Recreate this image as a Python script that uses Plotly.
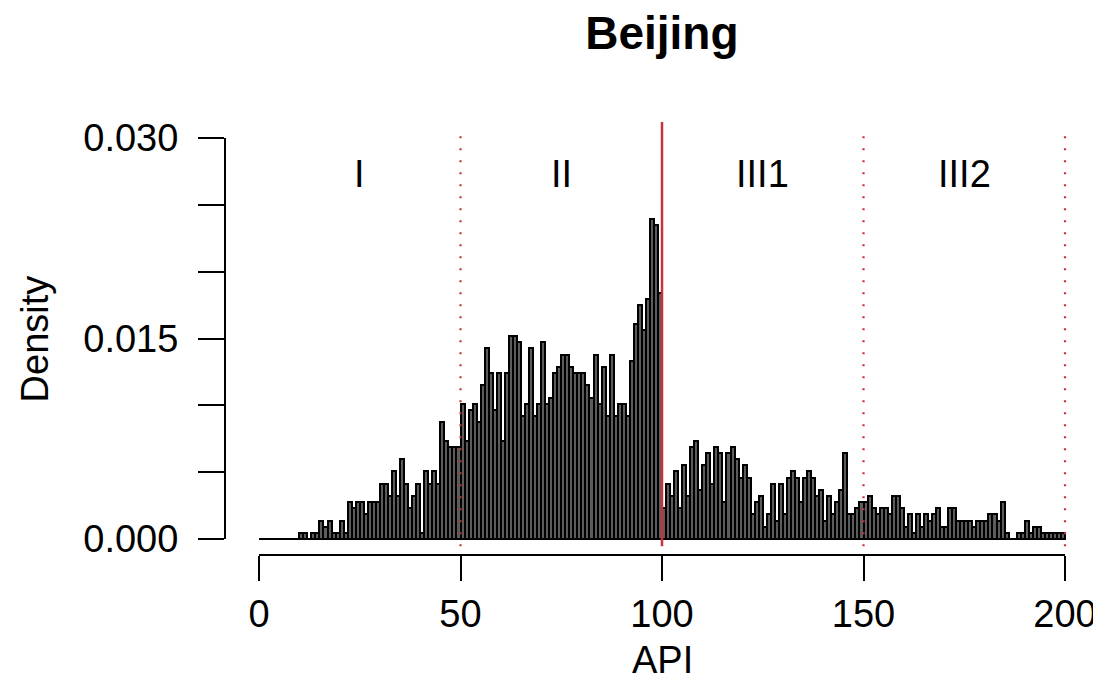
import numpy as np
import plotly.graph_objects as go

# daily API counts per 1-unit bin, API 0..199
api_counts = [
    0, 0, 0, 0, 0, 0, 0, 0, 0, 0,
    1, 1, 0, 1, 1, 3, 2, 3, 1, 1,
    3, 1, 6, 5, 6, 6, 4, 6, 6, 6,
    9, 9, 7, 11, 7, 13, 9, 5, 7, 9,
    1, 11, 9, 11, 9, 19, 16, 15, 15, 15,
    22, 16, 21, 22, 19, 25, 31, 27, 21, 27,
    16, 27, 33, 33, 32, 20, 22, 31, 20, 22,
    32, 22, 23, 27, 28, 30, 30, 28, 27, 27,
    27, 25, 23, 30, 22, 28, 20, 30, 20, 22,
    22, 20, 29, 35, 38, 34, 39, 52, 51, 40,
    5, 9, 7, 11, 5, 12, 7, 15, 16, 8,
    12, 14, 9, 15, 14, 6, 14, 15, 13, 10,
    12, 10, 4, 6, 7, 2, 4, 9, 3, 9,
    4, 10, 11, 10, 6, 10, 11, 10, 7, 8,
    3, 7, 4, 6, 8, 14, 4, 4, 5, 6,
    6, 7, 5, 4, 5, 5, 4, 7, 7, 5,
    2, 4, 1, 4, 2, 4, 3, 4, 5, 2,
    2, 5, 5, 3, 3, 3, 3, 2, 3, 3,
    3, 4, 4, 3, 6, 1, 0, 0, 1, 1,
    3, 1, 2, 2, 1, 1, 1, 1, 1, 1,
]
n_days = 2174  # total number of days in the sample

x_ticks = [0, 50, 100, 150, 200]
y_ticks = [0.0, 0.005, 0.010, 0.015, 0.020, 0.025, 0.030]
y_labels = ["0.000", "", "", "0.015", "", "", "0.030"]

cut_dotted = [50, 150, 200]
cut_solid = [100]
zone_names = ["I", "II", "III1", "III2"]
zone_x = [25, 75, 125, 175]
zone_y = 0.0273

FONT = "Liberation Sans, Arial, sans-serif"
RED = "#C8323A"

bin_mid = np.arange(len(api_counts)) + 0.5
density = np.array(api_counts) / n_days

fig = go.Figure()
fig.add_trace(go.Bar(x=bin_mid, y=density, width=1,
                     marker=dict(color="#5c5c5c", line=dict(color="black", width=2)),
                     showlegend=False, hoverinfo="skip"))

for v in cut_dotted:
    fig.add_shape(type="line", xref="x", yref="paper", x0=v, x1=v, y0=0.02, y1=0.99,
                  line=dict(color=RED, width=2.2, dash="2px,10px"), layer="above")
for v in cut_solid:
    fig.add_shape(type="line", xref="x", yref="paper", x0=v, x1=v, y0=0.02, y1=1,
                  line=dict(color=RED, width=2.5), layer="above")

# R style axis lines that stop at the end ticks
fig.add_shape(type="line", xref="x", yref="paper", x0=x_ticks[0], x1=x_ticks[-1], y0=0, y1=0,
              line=dict(color="black", width=2))
fig.add_shape(type="line", xref="paper", yref="y", x0=0, x1=0, y0=y_ticks[0], y1=y_ticks[-1],
              line=dict(color="black", width=2))
# baseline under the empty bins
fig.add_shape(type="line", xref="x", yref="y", x0=x_ticks[0], x1=x_ticks[-1], y0=0, y1=0,
              line=dict(color="black", width=2), layer="below")

for name, xx in zip(zone_names, zone_x):
    fig.add_annotation(x=xx, y=zone_y, xref="x", yref="y", text=name, showarrow=False,
                       xanchor="center", yanchor="middle",
                       font=dict(family=FONT, size=38, color="black"))

fig.add_annotation(xref="paper", yref="paper", x=-0.221, y=0.5, text="Density",
                   textangle=-90, showarrow=False, xanchor="center", yanchor="middle",
                   font=dict(family=FONT, size=38, color="black"))
fig.add_annotation(xref="x", yref="paper", x=100, y=-0.243, text="API",
                   showarrow=False, xanchor="center", yanchor="middle",
                   font=dict(family=FONT, size=38, color="black"))

# the page body adds an 8px offset, so margins are trimmed by 8 on the left/top
fig.update_layout(
    width=1101, height=684,
    margin=dict(l=217, r=24, t=114, b=137, autoexpand=False),
    paper_bgcolor="white", plot_bgcolor="white",
    bargap=0,
    title=dict(text="Beijing", xref="paper", x=0.508, xanchor="center",
               yref="container", y=0.964, yanchor="middle",
               font=dict(family=FONT, size=46, color="black", weight="bold")),
    xaxis=dict(range=[-8.44, 204.96], tickvals=x_ticks, ticks="outside", ticklen=25,
               tickwidth=2, tickcolor="black", showline=False, showgrid=False,
               zeroline=False, tickfont=dict(family=FONT, size=38, color="black"),
               ticklabelstandoff=0, automargin=False),
    yaxis=dict(range=[-0.001197, 0.031197], tickvals=y_ticks, ticktext=y_labels,
               ticks="outside", ticklen=26, tickwidth=2, tickcolor="black",
               showline=False, showgrid=False, zeroline=False,
               tickfont=dict(family=FONT, size=38, color="black"), ticklabelstandoff=12,
               automargin=False),
)

fig.write_html("out.html")
